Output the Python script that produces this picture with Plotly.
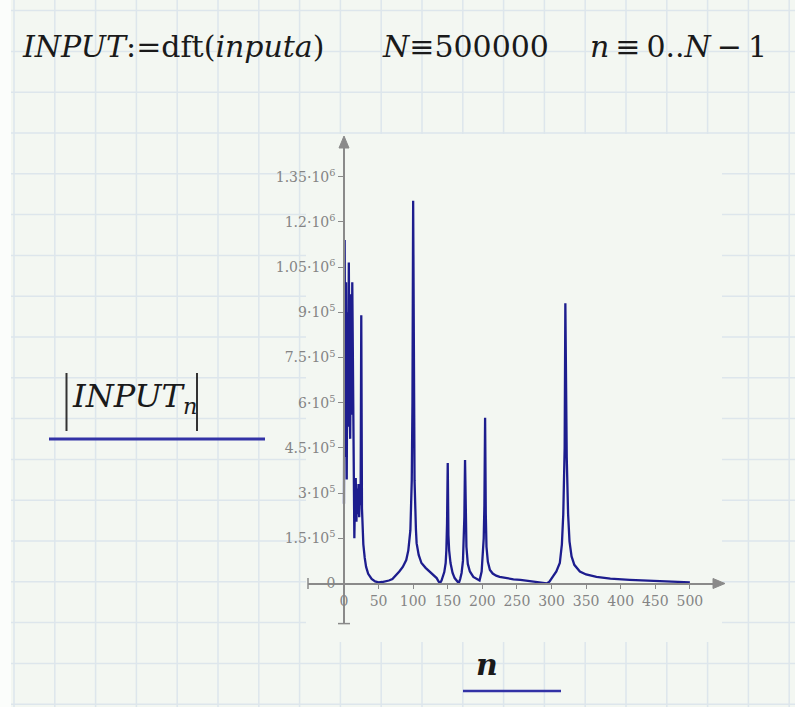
import plotly.graph_objects as go

# ---------------- data ----------------
n_vals = [0, 1, 2, 3, 4, 5, 6, 7, 8, 9, 10, 11, 12, 13, 14, 15, 16, 17, 18, 19, 20,
          21, 22, 23, 24, 25, 26, 27, 28, 30, 32, 35, 40, 45, 50, 55, 60, 65, 70, 76,
          80, 85, 90, 93, 96, 98, 99, 100, 101, 102, 104, 105, 108, 112, 118, 124, 130,
          134, 137, 139, 141, 143, 145, 147, 148, 149, 150, 151, 152, 154, 157, 160, 163,
          166, 168, 170, 172, 173, 174, 175, 176, 177, 179, 182, 187, 192, 196, 199, 200,
          202, 203, 204, 205, 206, 208, 211, 215, 220, 225, 235, 245, 255, 265, 275, 283,
          290, 293, 297, 302, 307, 312, 315, 317, 319, 320, 321, 322, 324, 326, 329, 333,
          341, 350, 365, 385, 413, 440, 461, 480, 500]
mag_vals = [265000, 1140000, 420000, 1000000, 345000, 900000, 520000, 1065000, 620000,
            480000, 960000, 560000, 1000000, 575000, 430000, 150000, 300000, 350000,
            205000, 315000, 230000, 330000, 220000, 320000, 260000, 890000, 250000,
            180000, 130000, 85000, 55000, 32000, 15000, 7000, 4000, 5000, 7000, 10000,
            15000, 28000, 40000, 55000, 78000, 110000, 177000, 343000, 600000, 1270000,
            650000, 343000, 180000, 134000, 95000, 68000, 52000, 39000, 27000, 18000,
            6000, 2000, 10000, 22000, 38000, 68000, 110000, 200000, 400000, 160000,
            110000, 68000, 35000, 18000, 8000, 1000, 15000, 35000, 75000, 122000,
            220000, 410000, 200000, 122000, 65000, 40000, 22000, 14000, 10000, 40000,
            68000, 150000, 260000, 550000, 230000, 122000, 72000, 45000, 33000, 26000,
            22000, 17000, 14000, 12000, 9000, 6000, 3000, 1000, 500, 6000, 22000, 40000,
            68000, 130000, 230000, 450000, 930000, 700000, 420000, 230000, 140000,
            90000, 62000, 40000, 30000, 22000, 16000, 12000, 9000, 7000, 5000, 4000]

x_tick_vals = [0, 50, 100, 150, 200, 250, 300, 350, 400, 450, 500]
x_tick_text = ["0", "50", "100", "150", "200", "250", "300", "350", "400", "450", "500"]
y_tick_vals = [0, 150000, 300000, 450000, 600000, 750000, 900000, 1050000, 1200000, 1350000]
y_tick_text = ["0", "1.5·10<sup>5</sup>", "3·10<sup>5</sup>", "4.5·10<sup>5</sup>",
               "6·10<sup>5</sup>", "7.5·10<sup>5</sup>", "9·10<sup>5</sup>",
               "1.05·10<sup>6</sup>", "1.2·10<sup>6</sup>", "1.35·10<sup>6</sup>"]

# ---------------- layout helpers ----------------
W, H = 795, 707
def px(x):
    return x / W
def py(y):
    return 1 - y / H

BG = "#f3f7f2"
GRID = "#dde6ec"
AXC = "#8a8a8a"
LBL = "#848484"
CURVE = "#1d1d8e"
ULINE = "#3232a6"
TXT = "#1a1a1a"

shapes = []
# worksheet grid
gx = [14 + 40.8 * k for k in range(20)]
gy = [10.6 + 40.8 * k for k in range(18)]
for x in gx:
    if x < W:
        shapes.append(dict(type="line", xref="paper", yref="paper", x0=px(x), x1=px(x),
                           y0=0, y1=1, line=dict(color=GRID, width=1.5), layer="below"))
for y in gy:
    if y < H:
        shapes.append(dict(type="line", xref="paper", yref="paper", x0=px(11), x1=1,
                           y0=py(y), y1=py(y), line=dict(color=GRID, width=1.5), layer="below"))
# left white strip
shapes.append(dict(type="rect", xref="paper", yref="paper", x0=0, x1=px(11), y0=0, y1=1,
                   fillcolor="#fbfdfb", line=dict(width=0), layer="below"))
# plot region covering the grid
shapes.append(dict(type="rect", xref="paper", yref="paper", x0=px(306), x1=px(722),
                   y0=py(642), y1=py(134), fillcolor=BG, line=dict(width=0), layer="below"))
# axis arrows
shapes.append(dict(type="path", xref="paper", yref="paper",
                   path=f"M {px(344)},{py(136)} L {px(339)},{py(148)} L {px(349)},{py(148)} Z",
                   fillcolor=AXC, line=dict(color=AXC, width=1)))
shapes.append(dict(type="path", xref="paper", yref="paper",
                   path=f"M {px(725)},{py(583.5)} L {px(713)},{py(578.5)} L {px(713)},{py(588.5)} Z",
                   fillcolor=AXC, line=dict(color=AXC, width=1)))
# axis end bars
shapes.append(dict(type="line", xref="paper", yref="paper", x0=px(308), x1=px(308),
                   y0=py(578), y1=py(589), line=dict(color=AXC, width=1.5)))
shapes.append(dict(type="line", xref="paper", yref="paper", x0=px(338), x1=px(350),
                   y0=py(623.6), y1=py(623.6), line=dict(color=AXC, width=1.5)))
# |INPUT_n| bars and underlines
for bx in (66.5, 197):
    shapes.append(dict(type="line", xref="paper", yref="paper", x0=px(bx), x1=px(bx),
                       y0=py(373), y1=py(431), line=dict(color="#333333", width=2)))
shapes.append(dict(type="line", xref="paper", yref="paper", x0=px(49), x1=px(265),
                   y0=py(439), y1=py(439), line=dict(color=ULINE, width=3)))
shapes.append(dict(type="line", xref="paper", yref="paper", x0=px(463), x1=px(561),
                   y0=py(691), y1=py(691), line=dict(color=ULINE, width=2.5)))

TFONT = dict(family="DejaVu Serif", size=30, color=TXT)
LFONT = dict(family="DejaVu Serif", size=32, color=TXT)
annotations = [
    dict(text="<i>INPUT</i>:=dft(<i>inputa</i>)", x=px(20), y=py(46), xref="paper", yref="paper",
         xanchor="left", yanchor="middle", showarrow=False, font=TFONT),
    dict(text="<i>N</i>≡500000", x=px(380), y=py(46), xref="paper", yref="paper",
         xanchor="left", yanchor="middle", showarrow=False, font=TFONT),
    dict(text="<i>n</i>\u2009≡\u20090..<i>N</i>\u2009−\u20091", x=px(588), y=py(46),
         xref="paper", yref="paper",
         xanchor="left", yanchor="middle", showarrow=False, font=TFONT),
    dict(text="<i>INPUT<sub>n</sub></i>", x=px(70), y=py(398), xref="paper", yref="paper",
         xanchor="left", yanchor="middle", showarrow=False, font=LFONT),
    dict(text="<b><i>n</i></b>", x=px(487), y=py(664), xref="paper", yref="paper",
         xanchor="center", yanchor="middle", showarrow=False, font=TFONT),
]

TICKFONT = dict(family="DejaVu Serif", size=14, color=LBL)

fig = go.Figure()
fig.add_trace(go.Scatter(x=n_vals, y=mag_vals, mode="lines",
                         line=dict(color=CURVE, width=2.3), hoverinfo="skip"))

fig.update_layout(
    width=W, height=H, autosize=False,
    margin=dict(l=0, r=0, t=0, b=0),
    paper_bgcolor=BG, plot_bgcolor="rgba(0,0,0,0)",
    showlegend=False,
    shapes=shapes, annotations=annotations,
    xaxis=dict(domain=[px(308), px(721)], range=[-52, 545], anchor="free",
               position=py(583.5), showline=True, linecolor=AXC, linewidth=1.5,
               ticks="outside", ticklen=5, tickcolor=AXC, tickwidth=1.2,
               tickvals=x_tick_vals, ticktext=x_tick_text, tickfont=TICKFONT,
               showgrid=False, zeroline=False, fixedrange=True),
    yaxis=dict(domain=[py(623.6), py(140.5)], range=[-133000, 1470000], anchor="free",
               position=px(344), showline=True, linecolor=AXC, linewidth=1.5,
               ticks="outside", ticklen=5, tickcolor=AXC, tickwidth=1.2,
               tickvals=y_tick_vals, ticktext=y_tick_text, tickfont=TICKFONT,
               showgrid=False, zeroline=False, fixedrange=True),
)

fig.write_html("out.html", config={"displayModeBar": False},
               post_script="document.body.style.margin='0px';document.body.style.padding='0px';")
